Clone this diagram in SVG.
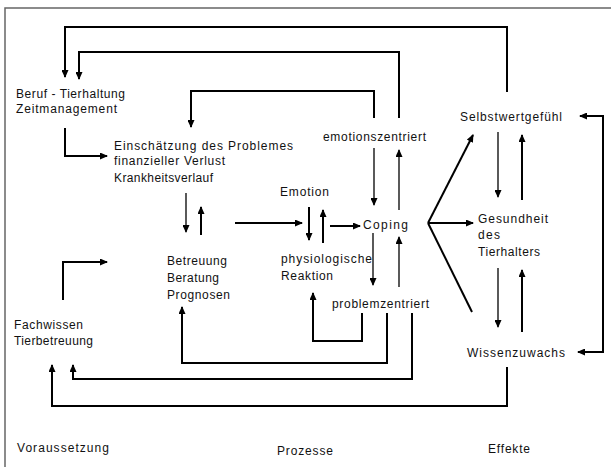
<svg xmlns="http://www.w3.org/2000/svg" width="611" height="467" viewBox="0 0 611 467">
<style>
text{font-family:"Liberation Sans",Arial,sans-serif;font-size:12px;fill:#111}
.c{fill:none;stroke:#000;stroke-width:2}
.t{fill:none;stroke:#000;stroke-width:1.3}
.a{marker-end:url(#ah)}
</style>
<defs>
<marker id="ah" markerUnits="userSpaceOnUse" markerWidth="8" markerHeight="7" refX="7" refY="3.5" orient="auto-start-reverse">
<path d="M0,0 L8,3.5 L0,7 z" fill="#000"/>
</marker>
</defs>
<rect width="611" height="467" fill="#fff"/>
<path d="M5,467 V8 H611" fill="none" stroke="#666" stroke-width="1.5"/>

<g id="connectors">
<path class="c a" d="M507,92 V27 H65 V77"/>
<path class="c a" d="M399,118 V52 H79 V79"/>
<path class="c a" d="M374,118 V91 H191 V127"/>
<path class="c a" d="M65,128 V156 H107"/>
<path class="t a" d="M186,193 V232"/>
<path class="c a" d="M201,235 V207"/>
<path class="c a" d="M235,223 H302"/>
<path class="c a" d="M309,207 V240"/>
<path class="c a" d="M323,243 V210"/>
<path class="c a" d="M330,226 H360"/>
<path class="t a" d="M374,148 V205"/>
<path class="t a" d="M399,210 V150"/>
<path class="t a" d="M373,233 V285"/>
<path class="t a" d="M399,287 V237"/>
<path class="c a" d="M362,313 V341 H313 V293"/>
<path class="c a" d="M387,313 V363 H182 V307"/>
<path class="c a" d="M412,313 V379 H73 V365"/>
<path class="c a" d="M507,367 V406 H52 V365"/>
<path class="c a" d="M63,300 V262 H107"/>
<path class="c a" d="M428,223 L473,135"/>
<path class="c a" d="M428,223 H473"/>
<path class="c" d="M428,223 L472,312"/>
<path class="t a" d="M498,132 V197"/>
<path class="c a" d="M522,200 V135"/>
<path class="t a" d="M498,268 V327"/>
<path class="c a" d="M522,332 V270"/>
<path class="c a" d="M580,116 H603 V352 H578" style="marker-start:url(#ah)"/>
</g>

<g id="beruf"><text x="16" y="98" textLength="109" lengthAdjust="spacing">Beruf - Tierhaltung</text><text x="16" y="113" textLength="101" lengthAdjust="spacing">Zeitmanagement</text></g>
<g id="einschaetzung"><text x="114" y="150" textLength="179" lengthAdjust="spacing">Einschätzung des Problemes</text><text x="114" y="165" textLength="111" lengthAdjust="spacing">finanzieller Verlust</text><text x="114" y="182" textLength="99" lengthAdjust="spacing">Krankheitsverlauf</text></g>
<g id="emotionszentriert"><text x="323" y="141" textLength="103" lengthAdjust="spacing">emotionszentriert</text></g>
<g id="emotion"><text x="280" y="196" textLength="49" lengthAdjust="spacing">Emotion</text></g>
<g id="coping"><text x="363" y="229" textLength="45" lengthAdjust="spacing">Coping</text></g>
<g id="reaktion"><text x="281" y="263" textLength="91" lengthAdjust="spacing">physiologische</text><text x="281" y="280" textLength="52" lengthAdjust="spacing">Reaktion</text></g>
<g id="problemzentriert"><text x="332" y="308" textLength="97" lengthAdjust="spacing">problemzentriert</text></g>
<g id="betreuung"><text x="167" y="265" textLength="60" lengthAdjust="spacing">Betreuung</text><text x="167" y="282" textLength="52" lengthAdjust="spacing">Beratung</text><text x="167" y="299" textLength="63" lengthAdjust="spacing">Prognosen</text></g>
<g id="fachwissen"><text x="14" y="329" textLength="69" lengthAdjust="spacing">Fachwissen</text><text x="14" y="345" textLength="79" lengthAdjust="spacing">Tierbetreuung</text></g>
<g id="selbstwert"><text x="460" y="121" textLength="102" lengthAdjust="spacing">Selbstwertgefühl</text></g>
<g id="gesundheit"><text x="478" y="223" textLength="70" lengthAdjust="spacing">Gesundheit</text><text x="478" y="239" textLength="22" lengthAdjust="spacing">des</text><text x="478" y="256" textLength="62" lengthAdjust="spacing">Tierhalters</text></g>
<g id="wissenzuwachs"><text x="467" y="357" textLength="98" lengthAdjust="spacing">Wissenzuwachs</text></g>
<g id="labels"><text x="17" y="452" textLength="92" lengthAdjust="spacing">Voraussetzung</text><text x="277" y="455" textLength="56" lengthAdjust="spacing">Prozesse</text><text x="488" y="453" textLength="42" lengthAdjust="spacing">Effekte</text></g>
</svg>
